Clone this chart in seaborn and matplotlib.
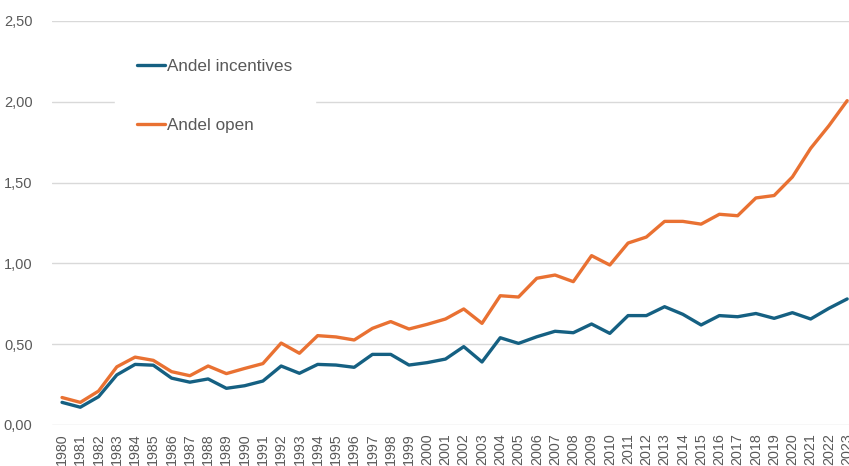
import matplotlib
matplotlib.use("Agg")
import matplotlib.pyplot as plt
import seaborn as sns
import pandas as pd
from matplotlib.ticker import FuncFormatter
from matplotlib.lines import Line2D

years = list(range(1980, 2024))
andel_incentives = [0.14, 0.11, 0.175, 0.31, 0.375, 0.37, 0.29, 0.265, 0.285, 0.227,
                    0.243, 0.272, 0.365, 0.32, 0.375, 0.371, 0.357, 0.437, 0.437, 0.371,
                    0.386, 0.408, 0.485, 0.39, 0.54, 0.505, 0.546, 0.58, 0.571, 0.625,
                    0.567, 0.677, 0.677, 0.732, 0.685, 0.619, 0.677, 0.67, 0.69, 0.66,
                    0.695, 0.656, 0.722, 0.78]
andel_open = [0.17, 0.14, 0.21, 0.36, 0.42, 0.40, 0.33, 0.305, 0.365, 0.318,
              0.35, 0.38, 0.507, 0.444, 0.553, 0.545, 0.526, 0.598, 0.64, 0.594,
              0.623, 0.656, 0.718, 0.629, 0.80, 0.792, 0.908, 0.928, 0.887, 1.048,
              0.99, 1.126, 1.163, 1.26, 1.26, 1.243, 1.304, 1.295, 1.405, 1.42,
              1.535, 1.712, 1.852, 2.007]
series_names = ["Andel incentives", "Andel open"]
y_ticks = [0.0, 0.5, 1.0, 1.5, 2.0, 2.5]

df = pd.DataFrame({
    "year": years * 2,
    "value": andel_incentives + andel_open,
    "series": [series_names[0]] * len(years) + [series_names[1]] * len(years),
})

sns.set_theme(style="white")
plt.rcParams["font.family"] = ["Liberation Sans", "DejaVu Sans"]

fig = plt.figure(figsize=(8.49, 4.66), dpi=100)
ax = fig.add_axes([52 / 849, 41 / 466, 1 - 52 / 849, 404 / 466])

palette = {series_names[0]: "#156082", series_names[1]: "#E97132"}
sns.lineplot(data=df, x="year", y="value", hue="series", palette=palette,
             linewidth=2.4, ax=ax, legend=False)

ax.set_xlim(1979.45, 2023.1)
ax.set_ylim(0, 2.5)
ax.set_yticks(y_ticks)
ax.yaxis.set_major_formatter(FuncFormatter(lambda v, p: f"{v:.2f}".replace(".", ",")))
ax.set_xticks(years)
ax.set_xticklabels([str(y) for y in years], rotation=90)
ax.tick_params(axis="x", labelsize=10.3, colors="#595959", length=0, pad=6)
ax.tick_params(axis="y", labelsize=10.5, colors="#595959", length=0, pad=14)
ax.grid(axis="y", color="#D9D9D9", linewidth=1)
ax.grid(axis="x", visible=False)
ax.set_axisbelow(True)
for s in ax.spines.values():
    s.set_visible(False)
ax.set_xlabel("")
ax.set_ylabel("")

handles = [Line2D([], [], color=palette[n], linewidth=2.4) for n in series_names]
leg = fig.legend(handles, series_names, loc="upper left",
                 bbox_to_anchor=(115 / 849, 1 - 37 / 466), bbox_transform=fig.transFigure,
                 frameon=True, fancybox=False, framealpha=1, edgecolor="white",
                 facecolor="white", fontsize=12.3, labelcolor="#595959",
                 handlelength=1.6, handletextpad=0.15, labelspacing=2.55,
                 borderpad=1.3, borderaxespad=0)

fig.savefig("out.png", dpi=100)
